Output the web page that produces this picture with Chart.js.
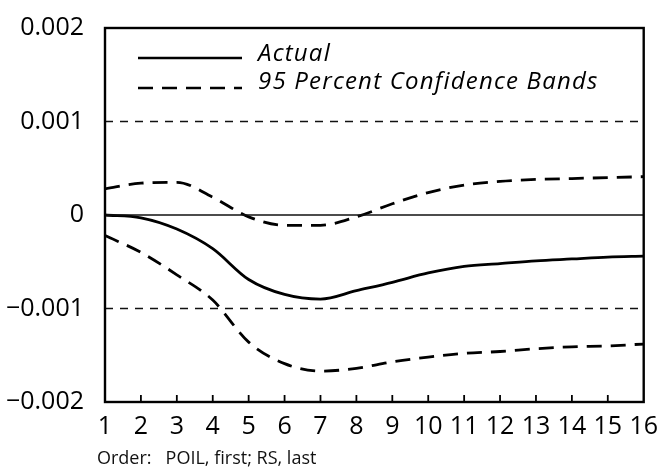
<!DOCTYPE html>
<html>
<head>
<meta charset="utf-8">
<script src="https://cdn.jsdelivr.net/npm/chart.js@4"></script>
<style>
  html, body { margin: 0; padding: 0; background: #fff; }
  #wrap { position: relative; width: 660px; height: 469px; }
  #caption {
    position: absolute; left: 97px; top: 448px;
    font-family: "Open Sans", sans-serif; font-size: 18px; color: #111;
    white-space: pre; line-height: 1;
  }
</style>
</head>
<body>
<div id="wrap">
  <canvas id="chart" width="660" height="469"></canvas>
  <div id="caption">Order:   POIL, first; RS, last</div>
</div>
<script>
// Horizon (periods)
const periods = [1, 2, 3, 4, 5, 6, 7, 8, 9, 10, 11, 12, 13, 14, 15, 16];

// Impulse response and confidence bands
const actual = [0, -0.00003, -0.00015, -0.00036, -0.00069, -0.00085, -0.0009, -0.00081,
    -0.00072, -0.00062, -0.00055, -0.00052, -0.00049, -0.00047, -0.00045, -0.00044];
const upperBand = [0.00028, 0.00034, 0.00035, 0.00019, -0.00002, -0.00011, -0.00011, -0.00002,
    0.00012, 0.00024, 0.00032, 0.00036, 0.00038, 0.00039, 0.0004, 0.00041];
const lowerBand = [-0.00022, -0.0004, -0.00064, -0.00091, -0.00136, -0.00159, -0.00167, -0.00164,
    -0.00157, -0.00152, -0.00148, -0.00146, -0.00143, -0.00141, -0.0014, -0.00138];

// Axis ticks and reference lines
const yTicks = [-0.002, -0.001, 0, 0.001, 0.002];
const dashedRefs = [0.001, -0.001];
const zeroRef = 0;

const legendItems = ['Actual', '95 Percent Confidence Bands'];

const FONT = '"Open Sans", sans-serif';
const BAND_DASH = [15, 9];

function toPoints(values) {
    return periods.map((p, i) => ({ x: p, y: values[i] }));
}
function flatLine(v) {
    return [{ x: periods[0], y: v }, { x: periods[periods.length - 1], y: v }];
}

const datasets = [
    {
        data: flatLine(zeroRef),
        borderColor: '#111', borderWidth: 1.3, pointRadius: 0
    },
    ...dashedRefs.map(v => ({
        data: flatLine(v),
        borderColor: '#111', borderWidth: 1.3, borderDash: [8, 7], pointRadius: 0
    })),
    {
        data: toPoints(actual),
        borderColor: '#000', borderWidth: 2.8, pointRadius: 0,
        tension: 0.3, cubicInterpolationMode: 'monotone'
    },
    {
        data: toPoints(upperBand),
        borderColor: '#000', borderWidth: 2.8, borderDash: BAND_DASH, pointRadius: 0,
        tension: 0.3, cubicInterpolationMode: 'monotone'
    },
    {
        data: toPoints(lowerBand),
        borderColor: '#000', borderWidth: 2.8, borderDash: BAND_DASH, pointRadius: 0,
        tension: 0.3, cubicInterpolationMode: 'monotone'
    }
];

// Frame, inward ticks and legend drawn inside the plot
const decorations = {
    id: 'decorations',
    afterDraw(chart) {
        const { ctx, chartArea: a, scales } = chart;
        ctx.save();
        ctx.strokeStyle = '#000';
        ctx.lineWidth = 2.4;
        ctx.strokeRect(a.left, a.top, a.right - a.left, a.bottom - a.top);

        // inward tick marks on the x axis
        ctx.lineWidth = 1.8;
        periods.slice(1, -1).forEach(p => {
            const x = scales.x.getPixelForValue(p);
            ctx.beginPath();
            ctx.moveTo(x, a.bottom);
            ctx.lineTo(x, a.bottom - 7);
            ctx.stroke();
        });

        // legend
        const x0 = a.left + 33, x1 = a.left + 137, tx = a.left + 153;
        const rows = [a.top + 30, a.top + 60];
        ctx.lineWidth = 2.6;
        ctx.beginPath();
        ctx.moveTo(x0, rows[0]);
        ctx.lineTo(x1, rows[0]);
        ctx.stroke();
        ctx.setLineDash(BAND_DASH);
        ctx.beginPath();
        ctx.moveTo(x0, rows[1]);
        ctx.lineTo(x1, rows[1]);
        ctx.stroke();
        ctx.setLineDash([]);
        ctx.fillStyle = '#000';
        ctx.font = 'italic 24px ' + FONT;
        ctx.letterSpacing = '1.2px';
        ctx.textBaseline = 'alphabetic';
        ctx.fillText(legendItems[0], tx, rows[0] + 3);
        ctx.fillText(legendItems[1], tx, rows[1] + 1);
        ctx.restore();
    }
};

new Chart(document.getElementById('chart'), {
    type: 'line',
    data: { datasets },
    options: {
        responsive: false,
        animation: false,
        layout: { padding: { top: 20, right: 13, left: 0, bottom: 0 } },
        plugins: { legend: { display: false }, tooltip: { enabled: false } },
        scales: {
            x: {
                type: 'linear', min: 1, max: 16,
                grid: { display: false },
                border: { display: false },
                ticks: {
                    stepSize: 1, padding: 2, color: '#000',
                    font: { family: FONT, size: 25 },
                    maxRotation: 0, autoSkip: false
                },
                afterFit(scale) { scale.height = 67; }
            },
            y: {
                min: -0.002, max: 0.002,
                grid: { display: false },
                border: { display: false },
                afterBuildTicks(scale) { scale.ticks = yTicks.map(v => ({ value: v })); },
                ticks: {
                    color: '#000', padding: 13,
                    font: { family: FONT, size: 25 },
                    callback: v => v === 0 ? '0' : (v < 0 ? '\u2212' : '') + Math.abs(v).toFixed(3)
                },
                afterFit(scale) { scale.width = 105; }
            }
        }
    },
    plugins: [decorations]
});
</script>
</body>
</html>
